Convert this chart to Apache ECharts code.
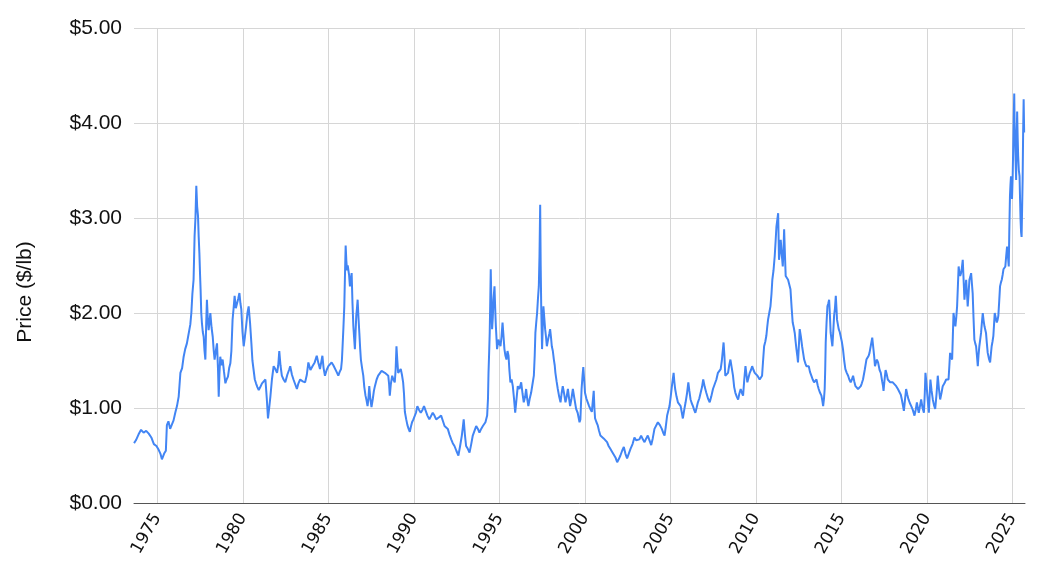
<!DOCTYPE html>
<html>
<head>
<meta charset="utf-8">
<script src="https://cdn.jsdelivr.net/npm/echarts@6/dist/echarts.min.js"></script>
<style>
html,body{margin:0;padding:0;background:#fff;}
#chart{width:1047px;height:584px;}
</style>
</head>
<body>
<div id="chart"></div>
<script>
// Decimal year, price ($/lb)
const prices1970s = [
[1973.64,0.63],[1973.75,0.66],[1973.9,0.72],[1974.05,0.77],[1974.2,0.74],[1974.35,0.76],[1974.5,0.73],[1974.65,0.69],[1974.8,0.62],[1974.95,0.60],
[1975.08,0.56],[1975.18,0.52],[1975.27,0.46],[1975.4,0.52],[1975.5,0.55],[1975.56,0.82],[1975.65,0.86],[1975.75,0.78],[1975.86,0.80],[1975.95,0.87],
[1976.05,0.95],[1976.15,1.02],[1976.25,1.12],[1976.35,1.37],[1976.45,1.42],[1976.54,1.54],[1976.63,1.62],[1976.73,1.68],[1976.8,1.75],[1976.87,1.82],
[1976.93,1.88],[1976.99,2.0],[1977.05,2.2],[1977.12,2.35],[1977.18,2.81],[1977.23,3.0],[1977.28,3.34],[1977.33,3.12],[1977.38,3.02],[1977.42,2.8],
[1977.46,2.63],[1977.5,2.4],[1977.53,2.25],[1977.57,2.0],[1977.61,1.89],[1977.66,1.8],[1977.71,1.75],[1977.76,1.6],[1977.81,1.51],[1977.86,1.9],
[1977.9,2.14],[1977.95,1.95],[1978.0,1.82],[1978.05,1.9],[1978.1,2.0],[1978.17,1.85],[1978.24,1.75],[1978.3,1.6],[1978.35,1.51],[1978.42,1.6],
[1978.49,1.68],[1978.55,1.4],[1978.59,1.12],[1978.63,1.35],[1978.68,1.54],[1978.75,1.45],[1978.82,1.51],[1978.9,1.38],[1978.98,1.26],[1979.05,1.3],
[1979.13,1.33],[1979.2,1.42],[1979.27,1.47],[1979.33,1.6],[1979.4,1.93],[1979.46,2.05],[1979.52,2.18],[1979.59,2.05],[1979.66,2.1],[1979.73,2.15],
[1979.8,2.21],[1979.86,2.1],[1979.91,2.04],[1979.98,1.8]
];
const prices1980s = [
[1980.05,1.65],[1980.12,1.75],[1980.19,1.86],[1980.27,2.0],[1980.34,2.07],[1980.42,1.9],[1980.5,1.68],[1980.56,1.5],[1980.63,1.40],[1980.7,1.3],
[1980.77,1.26],[1980.85,1.22],[1980.93,1.19],[1981.02,1.22],[1981.12,1.26],[1981.22,1.28],[1981.32,1.30],[1981.4,1.1],[1981.47,0.89],[1981.54,1.0],
[1981.61,1.12],[1981.7,1.3],[1981.8,1.44],[1981.9,1.41],[1982.0,1.37],[1982.07,1.45],[1982.13,1.6],[1982.2,1.45],[1982.28,1.34],[1982.38,1.3],
[1982.48,1.27],[1982.6,1.35],[1982.7,1.4],[1982.77,1.44],[1982.87,1.35],[1982.96,1.30],[1983.06,1.25],[1983.16,1.2],[1983.25,1.26],[1983.35,1.30],
[1983.5,1.28],[1983.64,1.27],[1983.74,1.35],[1983.83,1.48],[1983.95,1.4],[1984.07,1.44],[1984.2,1.48],[1984.32,1.55],[1984.42,1.47],[1984.51,1.41],
[1984.58,1.48],[1984.65,1.55],[1984.72,1.42],[1984.8,1.34],[1984.9,1.4],[1985.0,1.44],[1985.1,1.46],[1985.19,1.48],[1985.29,1.45],[1985.39,1.44],
[1985.48,1.38],[1985.58,1.34],[1985.66,1.38],[1985.74,1.41],[1985.79,1.5],[1985.83,1.65],[1985.88,1.85],[1985.93,2.07],[1985.97,2.4],[1986.01,2.71],
[1986.05,2.55],[1986.09,2.45],[1986.13,2.5],[1986.17,2.52],[1986.21,2.4],[1986.26,2.28],[1986.31,2.35],[1986.36,2.42],[1986.41,2.1],[1986.46,1.86],
[1986.5,1.75],[1986.55,1.62],[1986.59,1.8],[1986.63,1.97],[1986.67,2.05],[1986.71,2.14],[1986.76,1.95],[1986.81,1.79],[1986.86,1.62],[1986.9,1.51],
[1986.97,1.42],[1987.04,1.34],[1987.1,1.22],[1987.17,1.13],[1987.23,1.08],[1987.29,1.02],[1987.34,1.1],[1987.39,1.23],[1987.45,1.1],[1987.52,1.01],
[1987.6,1.1],[1987.66,1.18],[1987.72,1.23],[1987.82,1.3],[1987.91,1.34],[1988.0,1.36],[1988.11,1.39],[1988.2,1.37],[1988.3,1.37],[1988.4,1.35],
[1988.5,1.34],[1988.55,1.25],[1988.59,1.13],[1988.65,1.25],[1988.73,1.34],[1988.8,1.3],[1988.88,1.27],[1988.93,1.4],[1988.98,1.65],[1989.03,1.5],
[1989.08,1.37],[1989.15,1.38],[1989.23,1.41],[1989.3,1.35],[1989.37,1.27],[1989.42,1.15],[1989.47,0.96],[1989.55,0.88],[1989.62,0.82],[1989.69,0.78],
[1989.76,0.75],[1989.82,0.8],[1989.89,0.85],[1989.97,0.88]
];
const prices1990s = [
[1990.05,0.89],[1990.12,0.95],[1990.2,1.02],[1990.3,0.98],[1990.4,0.95],[1990.5,0.98],[1990.59,1.02],[1990.69,0.97],[1990.79,0.92],[1990.9,0.88],
[1991.0,0.9],[1991.1,0.95],[1991.2,0.92],[1991.3,0.88],[1991.45,0.9],[1991.59,0.92],[1991.7,0.86],[1991.79,0.81],[1991.9,0.8],[1991.98,0.78],
[1992.08,0.72],[1992.18,0.67],[1992.27,0.63],[1992.37,0.60],[1992.48,0.55],[1992.6,0.50],[1992.7,0.6],[1992.8,0.71],[1992.86,0.8],[1992.91,0.88],
[1992.98,0.72],[1993.05,0.60],[1993.15,0.57],[1993.25,0.53],[1993.35,0.62],[1993.44,0.71],[1993.54,0.76],[1993.64,0.81],[1993.74,0.78],[1993.83,0.74],
[1993.93,0.78],[1994.03,0.81],[1994.1,0.8],[1994.18,0.85],[1994.28,0.92],[1994.33,1.1],[1994.36,1.37],[1994.4,1.6],[1994.43,1.79],[1994.46,2.1],
[1994.49,2.46],[1994.53,2.1],[1994.57,1.83],[1994.61,1.95],[1994.65,2.14],[1994.71,2.28],[1994.75,2.05],[1994.79,1.86],[1994.86,1.62],[1994.94,1.72],
[1995.0,1.7],[1995.06,1.65],[1995.12,1.75],[1995.18,1.90],[1995.24,1.75],[1995.29,1.62],[1995.35,1.55],[1995.41,1.51],[1995.47,1.6],[1995.53,1.55],
[1995.58,1.4],[1995.64,1.27],[1995.71,1.3],[1995.78,1.23],[1995.85,1.1],[1995.92,0.95],[1996.0,1.1],[1996.07,1.23],[1996.17,1.2],[1996.27,1.27],
[1996.35,1.15],[1996.42,1.06],[1996.5,1.12],[1996.56,1.20],[1996.62,1.1],[1996.69,1.02],[1996.77,1.1],[1996.85,1.16],[1996.93,1.25],[1997.01,1.34],
[1997.06,1.55],[1997.1,1.79],[1997.15,1.9],[1997.2,2.0],[1997.25,2.15],[1997.3,2.28],[1997.34,2.6],[1997.38,3.14],[1997.41,2.5],[1997.44,2.07],
[1997.49,1.62],[1997.53,1.85],[1997.57,2.07],[1997.62,1.95],[1997.67,1.83],[1997.72,1.75],[1997.77,1.65],[1997.82,1.7],[1997.86,1.72],[1997.91,1.78],
[1997.96,1.83],[1998.01,1.75],[1998.06,1.65],[1998.12,1.6],[1998.18,1.51],[1998.23,1.45],[1998.27,1.37],[1998.34,1.28],[1998.41,1.20],[1998.49,1.12],
[1998.57,1.06],[1998.63,1.15],[1998.7,1.23],[1998.78,1.15],[1998.86,1.06],[1998.93,1.12],[1999.0,1.20],[1999.07,1.1],[1999.13,1.02],[1999.21,1.1],
[1999.29,1.20],[1999.38,1.1],[1999.48,0.99],[1999.57,0.95],[1999.68,0.85],[1999.73,0.88],[1999.8,1.20],[1999.86,1.35],[1999.9,1.43],[1999.95,1.3]
];
const prices2000s = [
[2000.0,1.16],[2000.08,1.1],[2000.16,1.06],[2000.24,1.02],[2000.31,0.99],[2000.4,0.96],[2000.45,0.95],[2000.51,1.18],[2000.55,1.0],[2000.59,0.89],
[2000.67,0.85],[2000.74,0.82],[2000.82,0.76],[2000.9,0.71],[2001.0,0.69],[2001.09,0.68],[2001.19,0.66],[2001.29,0.64],[2001.38,0.6],[2001.48,0.57],
[2001.58,0.54],[2001.68,0.52],[2001.78,0.48],[2001.88,0.43],[2001.97,0.46],[2002.07,0.50],[2002.17,0.55],[2002.27,0.59],[2002.36,0.52],[2002.46,0.47],
[2002.56,0.52],[2002.66,0.57],[2002.78,0.62],[2002.89,0.69],[2002.99,0.66],[2003.09,0.64],[2003.18,0.67],[2003.28,0.71],[2003.38,0.67],[2003.48,0.64],
[2003.58,0.68],[2003.67,0.71],[2003.77,0.66],[2003.87,0.61],[2003.96,0.68],[2004.06,0.78],[2004.16,0.8],[2004.26,0.85],[2004.38,0.82],[2004.49,0.78],
[2004.57,0.74],[2004.65,0.71],[2004.72,0.8],[2004.8,0.92],[2004.87,0.97],[2004.94,1.02],[2005.01,1.12],[2005.08,1.23],[2005.13,1.3],[2005.18,1.37],
[2005.22,1.28],[2005.27,1.20],[2005.35,1.12],[2005.43,1.06],[2005.51,1.04],[2005.59,1.02],[2005.66,0.95],[2005.72,0.89],[2005.8,0.98],[2005.88,1.06],
[2005.96,1.15],[2006.04,1.27],[2006.1,1.18],[2006.17,1.09],[2006.24,1.05],[2006.31,1.02],[2006.38,0.98],[2006.45,0.95],[2006.52,1.0],[2006.6,1.06],
[2006.68,1.1],[2006.76,1.16],[2006.84,1.22],[2006.91,1.30],[2007.0,1.22],[2007.09,1.16],[2007.19,1.1],[2007.29,1.06],[2007.38,1.12],[2007.48,1.20],
[2007.58,1.25],[2007.68,1.30],[2007.77,1.37],[2007.85,1.39],[2007.93,1.41],[2008.0,1.5],[2008.1,1.69],[2008.15,1.55],[2008.2,1.34],[2008.28,1.36],
[2008.36,1.37],[2008.43,1.45],[2008.5,1.51],[2008.58,1.42],[2008.65,1.34],[2008.72,1.22],[2008.79,1.16],[2008.87,1.12],[2008.95,1.09],[2009.02,1.15],
[2009.1,1.20],[2009.17,1.16],[2009.24,1.13],[2009.31,1.3],[2009.38,1.44],[2009.44,1.35],[2009.49,1.27],[2009.56,1.32],[2009.63,1.37],[2009.7,1.4],
[2009.77,1.44],[2009.85,1.4],[2009.92,1.37]
];
const prices2010s = [
[2010.0,1.36],[2010.08,1.34],[2010.15,1.32],[2010.21,1.30],[2010.28,1.32],[2010.35,1.34],[2010.41,1.5],[2010.47,1.65],[2010.54,1.7],[2010.6,1.76],
[2010.65,1.85],[2010.7,1.93],[2010.77,2.0],[2010.84,2.07],[2010.9,2.2],[2010.95,2.35],[2011.02,2.45],[2011.09,2.6],[2011.14,2.75],[2011.19,2.91],
[2011.24,2.98],[2011.29,3.05],[2011.34,2.56],[2011.39,2.65],[2011.44,2.77],[2011.5,2.62],[2011.56,2.49],[2011.6,2.65],[2011.64,2.88],[2011.69,2.6],
[2011.73,2.39],[2011.8,2.37],[2011.87,2.35],[2011.94,2.3],[2012.01,2.25],[2012.08,2.05],[2012.14,1.9],[2012.2,1.85],[2012.26,1.79],[2012.31,1.7],
[2012.36,1.62],[2012.41,1.55],[2012.45,1.48],[2012.5,1.65],[2012.55,1.83],[2012.62,1.75],[2012.69,1.65],[2012.75,1.58],[2012.81,1.51],[2012.88,1.47],
[2012.94,1.44],[2013.01,1.45],[2013.08,1.44],[2013.15,1.38],[2013.23,1.34],[2013.31,1.3],[2013.39,1.27],[2013.46,1.28],[2013.53,1.30],[2013.6,1.24],
[2013.66,1.20],[2013.74,1.16],[2013.82,1.13],[2013.87,1.08],[2013.92,1.02],[2013.97,1.1],[2014.01,1.20],[2014.04,1.4],[2014.07,1.69],[2014.12,1.9],
[2014.17,2.07],[2014.22,2.1],[2014.27,2.14],[2014.31,2.0],[2014.36,1.79],[2014.41,1.72],[2014.46,1.65],[2014.51,1.8],[2014.56,1.97],[2014.61,2.05],
[2014.66,2.18],[2014.7,2.05],[2014.73,1.93],[2014.78,1.88],[2014.83,1.83],[2014.89,1.8],[2014.95,1.79],[2015.01,1.7],[2015.08,1.62],[2015.15,1.5],
[2015.22,1.41],[2015.3,1.37],[2015.38,1.34],[2015.45,1.3],[2015.53,1.27],[2015.6,1.3],[2015.67,1.34],[2015.74,1.28],[2015.81,1.23],[2015.88,1.22],
[2015.96,1.20],[2016.04,1.22],[2016.12,1.23],[2016.18,1.26],[2016.25,1.30],[2016.35,1.4],[2016.45,1.51],[2016.52,1.53],[2016.58,1.55],[2016.63,1.58],
[2016.7,1.60],[2016.79,1.74],[2016.84,1.72],[2016.9,1.55],[2016.95,1.44],[2017.0,1.42],[2017.06,1.51],[2017.13,1.48],[2017.22,1.40],[2017.29,1.37],
[2017.37,1.28],[2017.42,1.23],[2017.45,1.18],[2017.5,1.28],[2017.57,1.40],[2017.63,1.36],[2017.7,1.30],[2017.77,1.28],[2017.84,1.27],[2017.92,1.26],
[2017.99,1.27],[2018.09,1.25],[2018.19,1.23],[2018.29,1.2],[2018.39,1.20],[2018.46,1.14],[2018.52,1.09],[2018.58,1.03],[2018.64,0.97],[2018.7,1.08],
[2018.77,1.20],[2018.84,1.14],[2018.91,1.09],[2018.99,1.05],[2019.07,1.02],[2019.16,0.98],[2019.26,0.92],[2019.33,0.98],[2019.4,1.06],[2019.45,1.0],
[2019.51,0.95],[2019.58,1.02],[2019.65,1.09],[2019.73,1.0],[2019.81,0.95],[2019.86,1.15],[2019.9,1.37],[2019.95,1.28]
];
const prices2020s = [
[2020.0,1.16],[2020.05,1.05],[2020.1,0.95],[2020.15,1.15],[2020.19,1.30],[2020.26,1.18],[2020.33,1.09],[2020.4,1.03],[2020.47,0.99],[2020.55,1.15],
[2020.62,1.34],[2020.69,1.2],[2020.76,1.09],[2020.84,1.16],[2020.91,1.23],[2021.01,1.26],[2021.11,1.30],[2021.18,1.28],[2021.25,1.30],[2021.3,1.45],
[2021.34,1.58],[2021.4,1.54],[2021.46,1.51],[2021.5,1.75],[2021.54,2.0],[2021.6,1.92],[2021.65,1.86],[2021.7,1.95],[2021.75,2.07],[2021.8,2.3],
[2021.84,2.49],[2021.88,2.43],[2021.93,2.39],[2021.98,2.42],[2022.02,2.46],[2022.08,2.56],[2022.13,2.35],[2022.18,2.14],[2022.23,2.25],[2022.28,2.35],
[2022.33,2.2],[2022.37,2.07],[2022.42,2.2],[2022.47,2.35],[2022.52,2.38],[2022.57,2.42],[2022.62,2.3],[2022.66,2.21],[2022.71,1.95],[2022.76,1.72],
[2022.81,1.68],[2022.86,1.65],[2022.91,1.55],[2022.96,1.44],[2023.0,1.55],[2023.05,1.65],[2023.1,1.72],[2023.15,1.79],[2023.2,1.9],[2023.25,2.0],
[2023.3,1.92],[2023.35,1.86],[2023.4,1.82],[2023.44,1.79],[2023.49,1.68],[2023.54,1.58],[2023.61,1.52],[2023.68,1.48],[2023.72,1.56],[2023.77,1.65],
[2023.82,1.7],[2023.87,1.76],[2023.91,1.88],[2023.95,2.0],[2024.01,1.95],[2024.07,1.90],[2024.12,1.93],[2024.16,1.97],[2024.21,2.12],[2024.26,2.28],
[2024.31,2.32],[2024.36,2.35],[2024.41,2.4],[2024.46,2.46],[2024.52,2.48],[2024.57,2.49],[2024.62,2.6],[2024.67,2.70],[2024.72,2.6],[2024.77,2.49],
[2024.8,2.85],[2024.84,3.23],[2024.87,3.35],[2024.9,3.44],[2024.93,3.3],[2024.96,3.2],[2025.0,3.45],[2025.03,3.75],[2025.06,4.05],[2025.09,4.31],
[2025.11,4.0],[2025.14,3.82],[2025.17,3.6],[2025.2,3.40],[2025.23,3.8],[2025.26,4.12],[2025.29,3.85],[2025.32,3.65],[2025.36,3.5],[2025.4,3.44],
[2025.43,3.2],[2025.46,2.98],[2025.49,2.85],[2025.52,2.80],[2025.55,3.1],[2025.58,3.40],[2025.61,3.9],[2025.64,4.25],[2025.67,3.9]
];
const yearTicks = [1975,1980,1985,1990,1995,2000,2005,2010,2015,2020,2025];
const priceTicks = [0,1,2,3,4,5];

const allPrices = [].concat(prices1970s, prices1980s, prices1990s, prices2000s, prices2010s, prices2020s);

const chart = echarts.init(document.getElementById('chart'), null, {renderer:'canvas'});
chart.setOption({
  animation:false,
  backgroundColor:'#ffffff',
  grid:{left:134,right:22,top:28,bottom:81,containLabel:false},
  xAxis:{
    type:'value',
    min:1973.638,
    max:2025.719,
    axisLine:{show:true,lineStyle:{color:'#555555',width:1}},
    axisTick:{show:false,customValues:yearTicks},
    axisLabel:{customValues:yearTicks,rotate:60,margin:12,fontFamily:'DejaVu Sans',fontSize:17,color:'#111111',formatter:v=>String(v)},
    splitLine:{show:true,lineStyle:{color:'#d6d6d6',width:1}}
  },
  yAxis:{
    type:'value',
    min:priceTicks[0],
    max:priceTicks[priceTicks.length-1],
    interval:1,
    axisLine:{show:false},
    axisTick:{show:false},
    axisLabel:{margin:12,fontFamily:'Liberation Sans',fontSize:21,color:'#111111',formatter:v=>'$'+v.toFixed(2)},
    splitLine:{show:true,lineStyle:{color:'#d6d6d6',width:1}}
  },
  graphic:[{
    type:'text',
    left:15, top:'middle',
    rotation:Math.PI/2,
    style:{text:'Price ($/lb)',fontFamily:'Liberation Sans',fontSize:21,fill:'#111111'}
  }],
  series:[{
    type:'line',
    data:allPrices,
    showSymbol:false,
    symbol:'none',
    lineStyle:{color:'#4285F4',width:2},
    itemStyle:{color:'#4285F4'}
  }]
});
</script>
</body>
</html>
